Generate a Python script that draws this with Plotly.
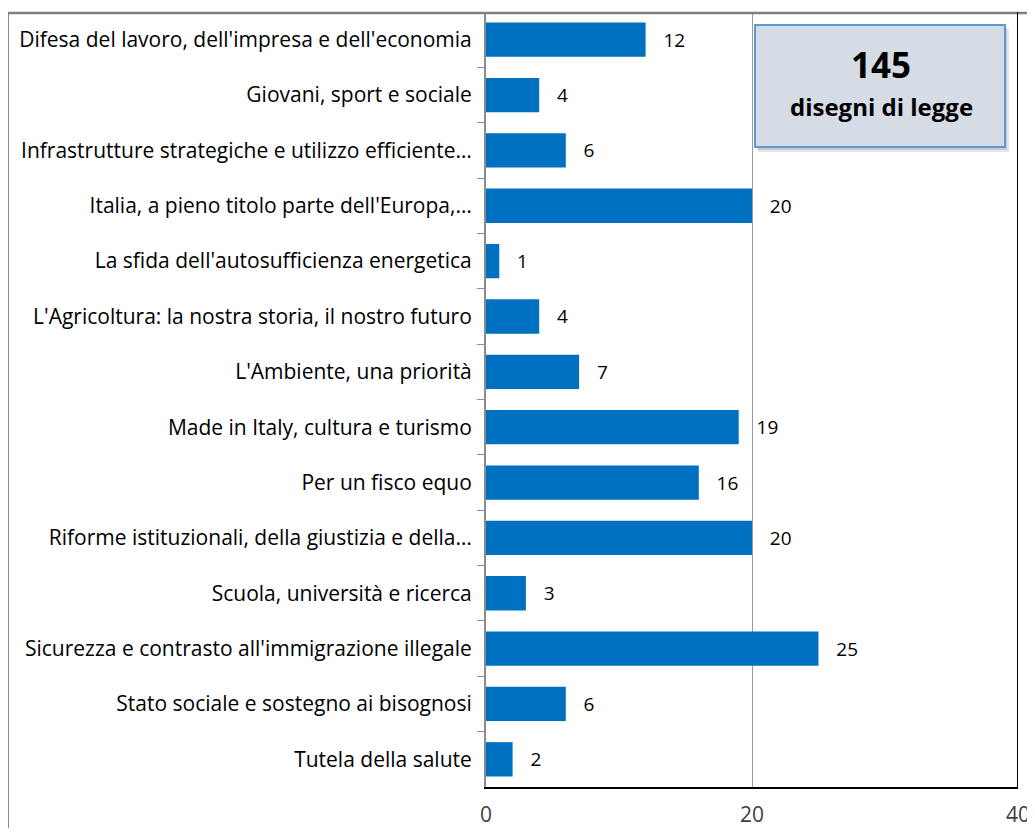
import plotly.graph_objects as go

categories = [
    "Difesa del lavoro, dell'impresa e dell'economia",
    "Giovani, sport e sociale",
    "Infrastrutture strategiche e utilizzo efficiente…",
    "Italia, a pieno titolo parte dell'Europa,…",
    "La sfida dell'autosufficienza energetica",
    "L'Agricoltura: la nostra storia, il nostro futuro",
    "L'Ambiente, una priorità",
    "Made in Italy, cultura e turismo",
    "Per un fisco equo",
    "Riforme istituzionali, della giustizia e della…",
    "Scuola, università e ricerca",
    "Sicurezza e contrasto all'immigrazione illegale",
    "Stato sociale e sostegno ai bisognosi",
    "Tutela della salute",
]
values = [12, 4, 6, 20, 1, 4, 7, 19, 16, 20, 3, 25, 6, 2]
x_ticks = [0, 20, 40]
total_label = "145"
total_sub = "disegni di legge"

FONT = "Open Sans"
OFF = 8  # default body margin of the page
W, H = 1035 - OFF, 836 - 2 * OFF
L, R, T, B = 486 - OFF, 17, 12 - OFF, 41
PW, PH = W - L - R, H - T - B


def px(x):
    return (x - OFF - L) / PW


def py(y):
    return 1 - (y - OFF - T) / PH


fig = go.Figure()
fig.add_trace(go.Bar(
    x=values, y=categories, orientation="h",
    marker=dict(color="#0070C0", line=dict(width=0)),
    texttemplate="\u00a0\u00a0\u00a0%{x}", textposition="outside",
    textfont=dict(family=FONT, size=19, color="#000000"),
    cliponaxis=False,
))

shapes = [
    # outer chart-area border (left and top sides)
    dict(type="line", xref="paper", yref="paper", x0=px(8), x1=px(8), y0=py(12), y1=py(860),
         line=dict(color="#8c8c8c", width=2), layer="above"),
    dict(type="line", xref="paper", yref="paper", x0=px(7), x1=px(1060), y0=py(13), y1=py(13),
         line=dict(color="#7f7f7f", width=2.5), layer="above"),
    dict(type="line", xref="x", yref="paper", x0=40, x1=40, y0=0, y1=1,
         line=dict(color="#000000", width=2)),
    dict(type="rect", xref="paper", yref="paper", x0=px(758), x1=px(1009), y0=py(29), y1=py(152),
         fillcolor="rgba(0,0,0,0.10)", line=dict(width=0), layer="above"),
    dict(type="rect", xref="paper", yref="paper", x0=px(757), x1=px(1007), y0=py(27), y1=py(150),
         fillcolor="rgba(0,0,0,0.12)", line=dict(width=0), layer="above"),
    dict(type="rect", xref="paper", yref="paper", x0=px(755), x1=px(1005), y0=py(25), y1=py(147),
         fillcolor="#D6DCE5", line=dict(color="#5B9BD5", width=2), layer="above"),
]

annotations = [
    dict(xref="paper", yref="paper", x=px(881), y=py(64), text="<b>" + total_label + "</b>",
         showarrow=False, font=dict(family=FONT, size=35, color="#000000"), xanchor="center", yanchor="middle"),
    dict(xref="paper", yref="paper", x=px(881), y=py(107), text="<b>" + total_sub + "</b>",
         showarrow=False, font=dict(family=FONT, size=24, color="#000000"), xanchor="center", yanchor="middle"),
]

fig.update_layout(
    width=W, height=H,
    margin=dict(l=L, r=R, t=T, b=B, autoexpand=False),
    paper_bgcolor="white", plot_bgcolor="white",
    showlegend=False,
    bargap=0.38,
    shapes=shapes,
    annotations=annotations,
    xaxis=dict(
        range=[0, 40], tickvals=x_ticks, ticktext=[str(v) for v in x_ticks],
        showgrid=True, gridcolor="#9a9a9a", gridwidth=1,
        showline=True, linecolor="#000000", linewidth=2,
        zeroline=False, ticks="",
        tickfont=dict(family=FONT, size=21, color="#404040"),
        ticklabelstandoff=8,
        automargin=False,
        fixedrange=True,
    ),
    yaxis=dict(
        autorange="reversed",
        showline=True, linecolor="#8c8c8c", linewidth=2,
        ticks="outside", tickson="boundaries", ticklen=7, tickcolor="#8c8c8c", tickwidth=1,
        tickfont=dict(family=FONT, size=21, color="#000000"),
        ticklabelstandoff=8,
        automargin=False,
        showgrid=False,
        fixedrange=True,
    ),
    font=dict(family=FONT),
)

fig.write_html("out.html")
